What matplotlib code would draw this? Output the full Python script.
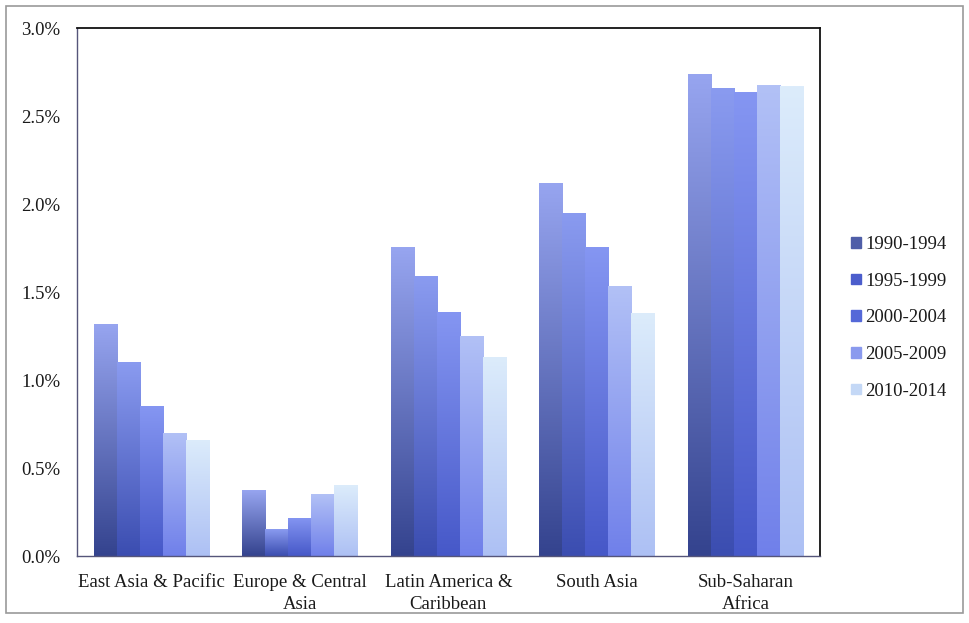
import numpy as np
import matplotlib.pyplot as plt
from matplotlib.colors import LinearSegmentedColormap
from matplotlib.patches import Rectangle
from matplotlib.ticker import FuncFormatter

regions = ['East Asia & Pacific', 'Europe & Central\nAsia', 'Latin America &\nCaribbean',
           'South Asia', 'Sub-Saharan\nAfrica']
periods = ['1990-1994', '1995-1999', '2000-2004', '2005-2009', '2010-2014']

v1990 = [1.32, 0.375, 1.755, 2.12, 2.74]
v1995 = [1.10, 0.153, 1.59, 1.95, 2.66]
v2000 = [0.85, 0.216, 1.385, 1.755, 2.635]
v2005 = [0.70, 0.352, 1.25, 1.535, 2.675]
v2010 = [0.66, 0.403, 1.13, 1.38, 2.67]
series = [v1990, v1995, v2000, v2005, v2010]

# (bottom, top) gradient colours per period
grad = [('#34438e', '#97a5f0'),
        ('#3b4db0', '#8a9bf0'),
        ('#4658c8', '#8596f2'),
        ('#7080ea', '#b2c1f6'),
        ('#adc0f4', '#dcecfb')]
legend_col = ['#4f5ea8', '#4b5dcc', '#5468d8', '#8a9aee', '#c4d8f6']

plt.rcParams['font.family'] = ['Liberation Serif', 'DejaVu Serif']
plt.rcParams['text.color'] = '#1a1a1a'

fig = plt.figure(figsize=(9.69, 6.23), dpi=100)
ax = fig.add_axes([0.0795, 0.1075, 0.7665, 0.8475])

x = np.arange(len(regions))
w = 0.155
grad_img = np.linspace(0, 1, 256).reshape(-1, 1)

for k, vals in enumerate(series):
    pos = x + (k - 2) * w
    bars = ax.bar(pos, vals, w, color='none', edgecolor='none', label=periods[k])
    cmap = LinearSegmentedColormap.from_list('g%d' % k, grad[k])
    for b in bars:
        x0, y0 = b.get_x(), b.get_y()
        im = ax.imshow(grad_img, cmap=cmap, origin='lower', aspect='auto',
                       extent=[x0, x0 + b.get_width(), y0, y0 + b.get_height()],
                       interpolation='bilinear', zorder=2)
        im.set_clip_path(b)

ax.set_xlim(-0.5, 4.5)
ax.set_ylim(0, 3.0)
ax.set_yticks(np.arange(0, 3.01, 0.5))
ax.yaxis.set_major_formatter(FuncFormatter(lambda v, p: '%.1f%%' % v))
ax.set_xticks(x)
ax.set_xticklabels(regions, fontsize=13.5, linespacing=1.4)
ax.tick_params(axis='y', labelsize=13.5, length=0, pad=12, labelcolor='#1a1a1a')
ax.tick_params(axis='x', length=0, pad=13, labelcolor='#1a1a1a')

for s in ['top', 'right']:
    ax.spines[s].set_color('#111111')
    ax.spines[s].set_linewidth(1.3)
for s in ['left', 'bottom']:
    ax.spines[s].set_color('#55557a')
    ax.spines[s].set_linewidth(1.0)

handles = [Rectangle((0, 0), 1, 1, color=c) for c in legend_col]
fig.legend(handles, periods, loc='center left', bbox_to_anchor=(0.861, 0.49),
           frameon=False, fontsize=13.5, handlelength=0.5, handleheight=0.5,
           handletextpad=0.25, labelspacing=1.05)

fig.patches.append(Rectangle((0.006, 0.016), 0.988, 0.975, transform=fig.transFigure,
                             fill=False, edgecolor='#9a9a9a', linewidth=1.2))

fig.savefig('out.png', dpi=100)
